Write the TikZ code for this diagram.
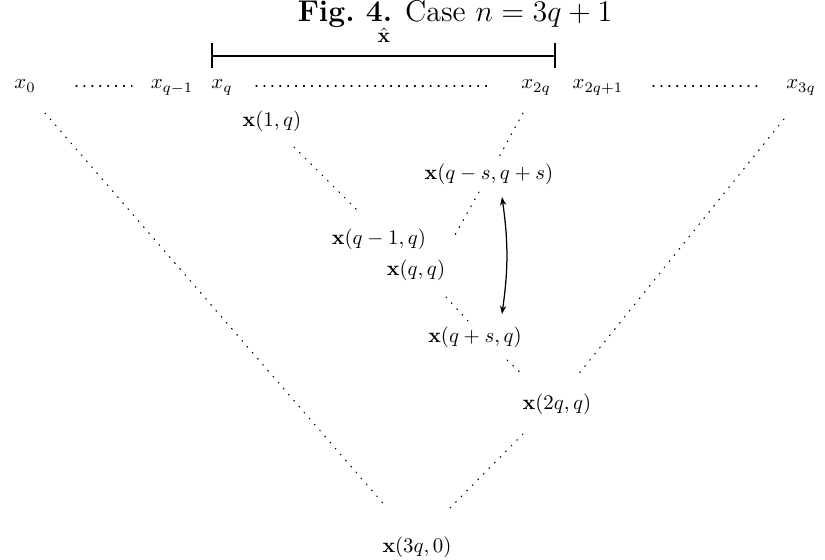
\documentclass[tikz,border=0pt]{standalone}
\usepackage{amsmath}
\usetikzlibrary{arrows.meta}
\begin{document}
\begin{tikzpicture}[x=0.48pt,y=-0.48pt,
  lbl/.style={anchor=base,inner sep=0pt},
  dots/.style={line width=0.5pt,dash pattern=on 0.5pt off 3.3pt,line cap=round},
  bar/.style={line width=0.9pt},
  swap/.style={{Stealth[length=4pt,width=3pt]}-{Stealth[length=4pt,width=3pt]},semithick}]
\useasboundingbox (0,0) rectangle (825,560);
% title
\node[lbl] (title) at (455,22) {\Large\textbf{Fig.\ 4.} Case $n=3q+1$};
\node[lbl] (xhat) at (384,43) {$\hat{\mathbf{x}}$};
% bracket
\coordinate (bl) at (212,56);
\coordinate (br) at (555,56);
\draw[bar] (bl) -- (br);
\draw[bar] ([yshift=-6]bl) -- ([yshift=6]bl);
\draw[bar] ([yshift=-6]br) -- ([yshift=6]br);
% top row
\node[lbl] (x0) at (25,89) {$x_0$};
\node[lbl] (xq1) at (172,89) {$x_{q-1}$};
\node[lbl] (xq) at (222,89) {$x_q$};
\node[lbl] (x2q) at (536,89) {$x_{2q}$};
\node[lbl] (x2q1) at (598,89) {$x_{2q+1}$};
\node[lbl] (x3q) at (801,89) {$x_{3q}$};
\coordinate (r1a) at (76,86); \coordinate (r1b) at (132,86);
\coordinate (r2a) at (256,86); \coordinate (r2b) at (490,86);
\coordinate (r3a) at (653,86); \coordinate (r3b) at (762,86);
\draw[dots] (r1a) -- (r1b);
\draw[dots] (r2a) -- (r2b);
\draw[dots] (r3a) -- (r3b);
% inner labels
\node[lbl] (n1q) at (272,127) {$\mathbf{x}(1,q)$};
\node[lbl] (nqs) at (489,180) {$\mathbf{x}(q-s,q+s)$};
\node[lbl] (nq1) at (379,245) {$\mathbf{x}(q-1,q)$};
\node[lbl] (nqq) at (416,276) {$\mathbf{x}(q,q)$};
\node[lbl] (nqsq) at (475,343) {$\mathbf{x}(q+s,q)$};
\node[lbl] (n2q) at (557,410) {$\mathbf{x}(2q,q)$};
\node[lbl] (n3q) at (417,553) {$\mathbf{x}(3q,0)$};
% dotted diagonals
\coordinate (L1) at (45,113);  \coordinate (L2) at (387,508);
\coordinate (R1) at (784,119); \coordinate (R2) at (577,376);
\coordinate (B1) at (523,434); \coordinate (B2) at (446,512);
\coordinate (U1) at (523,113); \coordinate (U2) at (499,157);
\coordinate (V1) at (479,192); \coordinate (V2) at (455,235);
\coordinate (M1) at (294,147); \coordinate (M2) at (357,210);
\coordinate (Q1) at (446,297); \coordinate (Q2) at (468,321);
\coordinate (S1) at (507,360); \coordinate (S2) at (524,376);
\draw[dots] (L1) -- (L2);
\draw[dots] (R1) -- (R2);
\draw[dots] (B1) -- (B2);
\draw[dots] (U1) -- (U2);
\draw[dots] (V1) -- (V2);
\draw[dots] (M1) -- (M2);
\draw[dots] (Q1) -- (Q2);
\draw[dots] (S1) -- (S2);
% swap arrow
\coordinate (A1) at (502,197);
\coordinate (A2) at (502,314);
\draw[swap] (A1) to[bend left=8] (A2);
\end{tikzpicture}
\end{document}
